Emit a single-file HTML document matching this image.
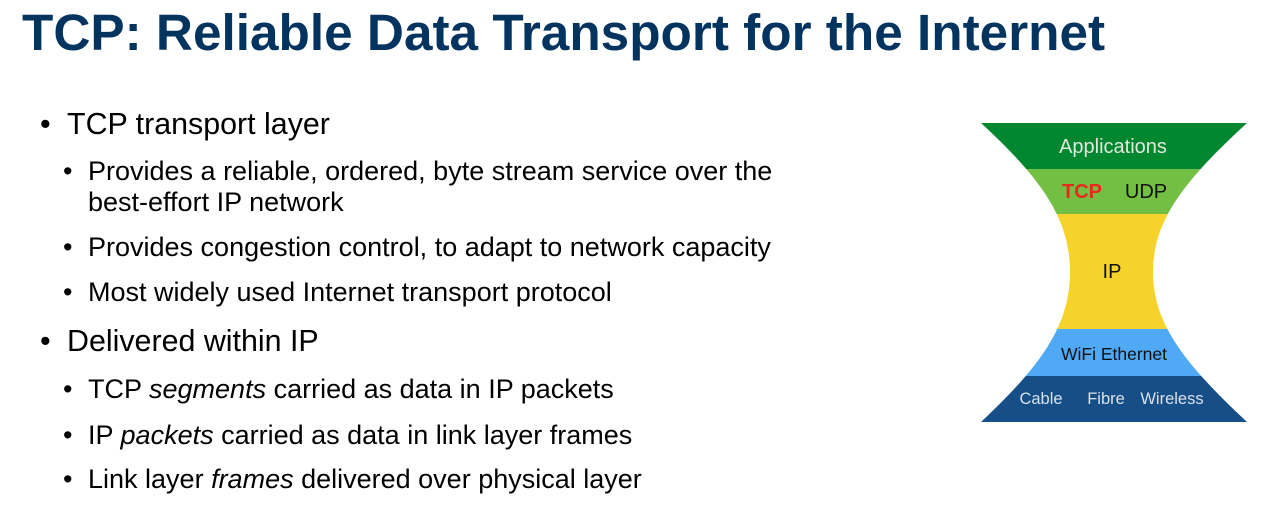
<!DOCTYPE html>
<html><head><meta charset="utf-8"><style>
body{margin:0;width:1283px;height:530px;background:#fff;position:relative;overflow:hidden;font-family:"Liberation Sans",Arial,sans-serif;}
.t{position:absolute;left:22px;top:3px;font-size:51.3px;font-weight:bold;color:#02345f;white-space:nowrap;line-height:60px;}
.l1,.l2{position:absolute;white-space:nowrap;color:#000;}
.l1{left:67px;font-size:30.4px;line-height:34px;}
.l2{left:88px;font-size:27px;line-height:31px;}
.l1::before,.l2::before{content:"•";position:absolute;}
.l1::before{left:-27px;}
.l2::before{left:-25px;}
.n::before{content:none;}
</style></head><body>
<div class="t">TCP: Reliable Data Transport for the Internet</div>
<div class="l1" style="top:107px">TCP transport layer</div>
<div class="l2" style="top:156px">Provides a reliable, ordered, byte stream service over the</div>
<div class="l2 n" style="top:187px">best-effort IP network</div>
<div class="l2" style="top:232px">Provides congestion control, to adapt to network capacity</div>
<div class="l2" style="top:277px">Most widely used Internet transport protocol</div>
<div class="l1" style="top:324px">Delivered within IP</div>
<div class="l2" style="top:374px">TCP <i>segments</i> carried as data in IP packets</div>
<div class="l2" style="top:420px">IP <i>packets</i> carried as data in link layer frames</div>
<div class="l2" style="top:464px">Link layer <i>frames</i> delivered over physical layer</div>
<svg width="1283" height="530" style="position:absolute;left:0;top:0" font-family="Liberation Sans, Arial, sans-serif">
<defs><clipPath id="hg"><path d="M981,123 L1247,123 C1185,180 1153,220 1153,272 C1153,324 1185,364 1247,422 L981,422 C1043,364 1070,324 1070,272 C1070,220 1043,180 981,123 Z"/></clipPath></defs>
<g clip-path="url(#hg)">
<rect x="970" y="123" width="290" height="46" fill="#00872f"/>
<rect x="970" y="169" width="290" height="45" fill="#72bf44"/>
<rect x="970" y="214" width="290" height="115" fill="#f6d32b"/>
<rect x="970" y="329" width="290" height="47" fill="#50a9f5"/>
<rect x="970" y="376" width="290" height="46" fill="#164f87"/>
</g>
<text x="1113" y="153" font-size="20" fill="#dfe9dc" text-anchor="middle">Applications</text>
<text x="1082" y="198" font-size="20" fill="#e8291c" font-weight="bold" text-anchor="middle">TCP</text>
<text x="1146" y="198" font-size="20" fill="#111" text-anchor="middle">UDP</text>
<text x="1112" y="278" font-size="20" fill="#111" text-anchor="middle">IP</text>
<text x="1114" y="360" font-size="17.5" fill="#111" text-anchor="middle">WiFi  Ethernet</text>
<text x="1041" y="404" font-size="16.5" fill="#d8e0ea" text-anchor="middle">Cable</text>
<text x="1106" y="404" font-size="16.5" fill="#d8e0ea" text-anchor="middle">Fibre</text>
<text x="1172" y="404" font-size="16.5" fill="#d8e0ea" text-anchor="middle">Wireless</text>
</svg>
</body></html>
